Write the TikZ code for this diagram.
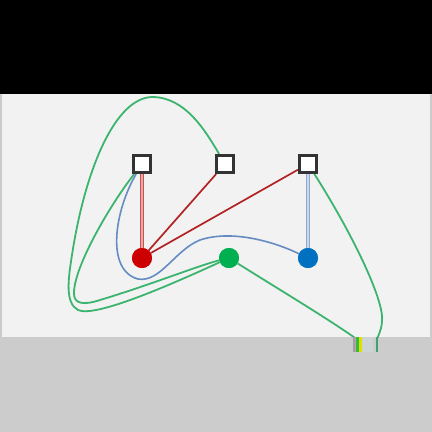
\documentclass[tikz,border=0pt]{standalone}
\definecolor{cred}{RGB}{204,0,0}
\definecolor{cgreen}{RGB}{0,176,80}
\definecolor{cblue}{RGB}{0,112,192}
\definecolor{lgreen}{RGB}{60,180,110}
\definecolor{lred}{RGB}{178,34,34}
\definecolor{lblue}{RGB}{100,140,195}
\definecolor{dred}{RGB}{200,80,80}
\definecolor{pred}{RGB}{230,170,170}
\definecolor{dblue}{RGB}{140,168,204}
\definecolor{pblue}{RGB}{200,216,234}
\definecolor{st1}{RGB}{160,160,160}
\definecolor{st2}{RGB}{190,160,176}
\definecolor{st3}{RGB}{50,190,60}
\definecolor{st4}{RGB}{224,224,0}
\definecolor{st5}{RGB}{205,212,212}
\definecolor{st6}{RGB}{64,160,112}
\definecolor{bgl}{RGB}{242,242,242}
\definecolor{bgd}{RGB}{204,204,204}
\begin{document}
\begin{tikzpicture}[x=1pt,y=-1pt,
  sq/.style={draw=black!80,line width=2.6pt,fill=white,minimum size=17.5pt,inner sep=0pt},
  dot/.style={circle,minimum size=20pt,inner sep=0pt},
  redl/.style={draw=lred,line width=1.7pt},
  grn/.style={draw=lgreen,line width=1.8pt},
  blu/.style={draw=lblue,line width=1.6pt}]
\useasboundingbox (0,0) rectangle (432,432);
\fill[bgd] (0,0) rectangle (432,432);
\fill[black] (0,0) rectangle (432,94);
\fill[bgl] (2,94) rectangle (430,337);
\node[sq] (s1) at (142,164) {};
\node[sq] (s2) at (225,164) {};
\node[sq] (s3) at (308,164) {};
\node[dot,fill=cred] (r) at (142,258) {};
\node[dot,fill=cgreen] (g) at (229,258) {};
\node[dot,fill=cblue] (b) at (308,258) {};
\coordinate (e1) at (377,340);
\coordinate (e2) at (358,340);
\begin{scope}
\clip (2,94) rectangle (430,337);
\draw[grn] (g) .. controls (170,285) and (95,318) .. (78,310) .. controls (65,303) and (68,280) .. (72,255) .. controls (85,170) and (115,98) .. (152,97) .. controls (185,97) and (205,130) .. (s2);
\draw[grn] (s1) .. controls (110,205) and (75,265) .. (74,292) .. controls (73,305) and (85,305) .. (100,300) .. controls (150,285) and (200,265) .. (g);
\draw[grn] (s3) .. controls (350,230) and (385,300) .. (382,322) .. controls (381,332) and (378,335) .. (e1);
\draw[grn] (g) .. controls (280,290) and (330,320) .. (e2);
\draw[blu] (s1) .. controls (115,210) and (105,270) .. (138,279) .. controls (160,283) and (175,250) .. (200,240) .. controls (230,230) and (270,240) .. (b);
\end{scope}
\draw[line width=3.6pt,dred] (s1) -- (r);
\draw[line width=1.3pt,pred] (s1) -- (r);
\draw[redl] (s2) -- (r);
\draw[redl] (s3) -- (r);
\draw[line width=3.6pt,dblue] (s3) -- (b);
\draw[line width=1.3pt,pblue] (s3) -- (b);
\node[sq] at (s1) {};
\node[sq] at (s2) {};
\node[sq] at (s3) {};
\node[dot,fill=cred] at (r) {};
\node[dot,fill=cgreen] at (g) {};
\node[dot,fill=cblue] at (b) {};
\fill[st1] (352.7,337) rectangle (354.7,352);
\fill[st2] (354.7,337) rectangle (356,352);
\fill[st3] (356,337) rectangle (359,352);
\fill[st4] (359,337) rectangle (362,352);
\fill[st5] (362,337) rectangle (373,352);
\fill[st6] (375.5,337) rectangle (378,352);
\end{tikzpicture}
\end{document}
